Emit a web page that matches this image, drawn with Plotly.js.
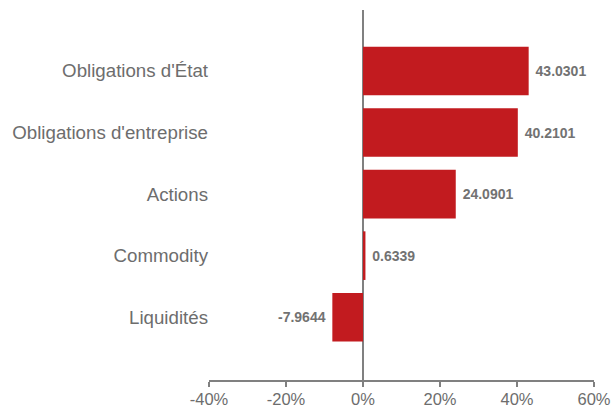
<!DOCTYPE html>
<html>
<head>
<meta charset="utf-8">
<script src="https://cdn.plot.ly/plotly-3.0.1.min.js"></script>
<style>html,body{margin:0;padding:0;background:#fff;}#chart{width:614px;height:407px;}</style>
</head>
<body>
<div id="chart"></div>
<script>
var categories = ["Liquidités", "Commodity", "Actions", "Obligations d'entreprise", "Obligations d'État"];
var values = [-7.9644, 0.6339, 24.0901, 40.2101, 43.0301];
var tickVals = [-40, -20, 0, 20, 40, 60];
var tickLabels = ["-40%", "-20%", "0%", "20%", "40%", "60%"];

var trace = {
  type: 'bar',
  orientation: 'h',
  y: categories,
  x: values,
  marker: {color: '#c21b1f'},
  text: values.map(function(v){return v < 0 ? v.toFixed(4) + '\u00a0' : '\u00a0' + v.toFixed(4);}),
  textposition: 'outside',
  cliponaxis: false,
  textfont: {family: '"Liberation Sans", Arial, sans-serif', size: 14, color: '#727272', weight: 'bold'},
  hoverinfo: 'none'
};

var layout = {
  width: 614, height: 407,
  margin: {l: 209, r: 20, t: 10, b: 27},
  paper_bgcolor: '#fff', plot_bgcolor: '#fff',
  showlegend: false,
  bargap: 0.21,
  font: {family: '"Liberation Sans", Arial, sans-serif', color: '#6d6d6d'},
  xaxis: {
    range: [-40, 60],
    tickvals: tickVals,
    ticktext: tickLabels,
    showgrid: false,
    zeroline: true, zerolinecolor: '#808080', zerolinewidth: 2,
    showline: true, linecolor: '#808080', linewidth: 2,
    ticks: 'outside', ticklen: 5, tickcolor: '#808080', tickwidth: 2,
    ticklabelstandoff: -2,
    tickfont: {size: 16.5, color: '#6d6d6d'},
    fixedrange: true
  },
  yaxis: {
    type: 'category',
    range: [-1.02, 4.99],
    showgrid: false, zeroline: false, showline: false,
    ticks: '',
    tickfont: {size: 18.7, color: '#6d6d6d'},
    fixedrange: true
  }
};

Plotly.newPlot('chart', [trace], layout, {displayModeBar: false, staticPlot: true});
</script>
</body>
</html>
